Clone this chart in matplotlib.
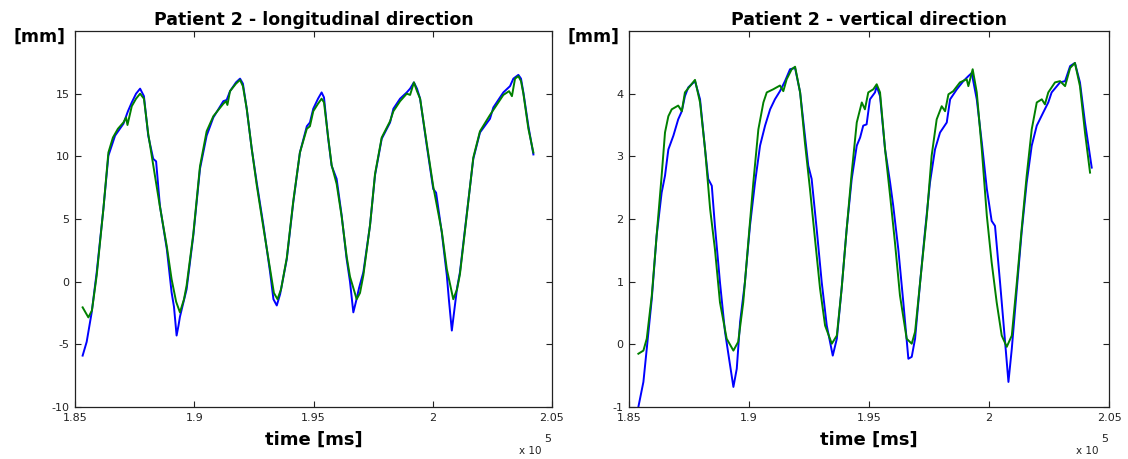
import matplotlib
matplotlib.use("Agg")
import matplotlib.pyplot as plt

# ---------------- data (time in ms, displacement in mm) ----------------
long_blue_t = [185320, 185490, 185700, 185910, 186190, 186400, 186680, 187030, 187220, 187380,
               187560, 187730, 187890, 188070, 188280, 188400, 188560, 188850, 189050, 189150,
               189260, 189340, 189400, 189680, 189960, 190240, 190520, 190800, 191220, 191360,
               191500, 191750, 191920, 192040, 192200, 192410, 192620, 192900, 193180, 193320,
               193460, 193600, 193880, 194150, 194430, 194720, 194850, 194990, 195190, 195340,
               195440, 195610, 195760, 195970, 196180, 196390, 196530, 196670, 196780, 196910,
               197090, 197370, 197580, 197860, 198210, 198350, 198630, 198910, 199050, 199210,
               199340, 199470, 199750, 200020, 200140, 200380, 200590, 200680, 200800, 200890,
               201020, 201140, 201420, 201700, 201980, 202400, 202540, 202960, 203240, 203380,
               203590, 203700, 203800, 204010, 204220]
long_blue_v = [-5.9, -4.8, -2.45, 0.75, 5.8, 10.05, 11.65, 12.6, 13.6, 14.3,
               15.0, 15.4, 14.8, 11.65, 9.8, 9.6, 6.06, 2.6, -0.85, -2.0,
               -4.3, -3.5, -2.8, -0.6, 3.67, 9.0, 11.65, 13.1, 14.4, 14.5,
               15.2, 15.9, 16.2, 15.8, 13.8, 10.6, 7.9, 4.5, 0.75, -1.4,
               -1.9, -1.0, 1.8, 6.3, 10.3, 12.4, 12.7, 13.8, 14.6, 15.1,
               14.7, 11.5, 9.25, 8.2, 5.3, 1.8, 0.0, -2.45, -1.6, -0.5,
               0.75, 4.5, 8.5, 11.4, 12.7, 13.8, 14.6, 15.1, 15.4, 15.9,
               15.4, 14.6, 10.85, 7.4, 7.1, 3.9, 0.5, -1.5, -3.9, -2.5,
               -0.5, 0.75, 5.3, 9.8, 11.9, 13.0, 13.9, 15.1, 15.6, 16.2,
               16.5, 16.2, 15.1, 12.4, 10.15]

long_green_t = [185320, 185560, 185710, 185910, 186190, 186400, 186590, 186800, 187030, 187140,
                187200, 187380, 187560, 187730, 187890, 188070, 188280, 188560, 188850, 189050,
                189240, 189400, 189570, 189680, 189960, 190240, 190520, 190800, 191220, 191330,
                191390, 191500, 191750, 191920, 192040, 192200, 192410, 192620, 192900, 193180,
                193340, 193490, 193640, 193880, 194150, 194430, 194720, 194850, 194990, 195190,
                195340, 195440, 195610, 195760, 195970, 196180, 196390, 196530, 196810, 196950,
                197090, 197370, 197580, 197860, 198210, 198350, 198630, 198910, 199050, 199210,
                199340, 199470, 199750, 200020, 200380, 200590, 200860, 201020, 201140, 201420,
                201700, 201980, 202400, 202540, 202960, 203200, 203320, 203450, 203590, 203700,
                203800, 204010, 204220]
long_green_v = [-2.05, -2.85, -2.3, 0.5, 5.8, 10.3, 11.5, 12.2, 12.7, 13.1,
                12.5, 14.0, 14.6, 15.0, 14.6, 11.8, 9.3, 6.0, 2.8, 0.2,
                -1.6, -2.45, -1.4, -0.3, 3.8, 9.2, 12.0, 13.2, 14.2, 14.4,
                14.1, 15.2, 15.8, 16.1, 15.6, 13.8, 10.6, 7.7, 4.3, 1.0,
                -0.9, -1.4, -0.6, 1.9, 6.4, 10.3, 12.2, 12.4, 13.6, 14.2,
                14.6, 14.3, 11.6, 9.3, 7.8, 5.2, 2.0, 0.4, -1.4, -0.9,
                0.5, 4.5, 8.6, 11.5, 12.8, 13.6, 14.4, 15.0, 14.9, 15.9,
                15.2, 14.6, 11.0, 7.6, 4.0, 1.0, -1.4, -0.6, 0.6, 5.2,
                9.9, 12.0, 13.3, 13.7, 14.9, 15.2, 14.8, 16.2, 16.4, 16.0,
                15.0, 12.2, 10.3]

vert_blue_t = [185390, 185600, 185740, 185950, 186150, 186360, 186500, 186640, 186850, 187050,
               187200, 187330, 187470, 187750, 187960, 188170, 188300, 188450, 188580, 188790,
               189000, 189210, 189350, 189490, 189630, 189830, 190040, 190250, 190460, 190670,
               190880, 191080, 191290, 191500, 191710, 191920, 192130, 192330, 192470, 192610,
               192820, 193030, 193240, 193490, 193660, 193860, 194070, 194280, 194490, 194630,
               194760, 194900, 195040, 195250, 195320, 195460, 195670, 195880, 196010, 196220,
               196430, 196640, 196780, 196920, 197130, 197330, 197540, 197750, 197960, 198240,
               198380, 198660, 198930, 199140, 199280, 199490, 199700, 199910, 200110, 200250,
               200460, 200670, 200810, 200950, 201160, 201360, 201570, 201780, 201990, 202260,
               202470, 202610, 202960, 203170, 203380, 203580, 203790, 204000, 204280]
vert_blue_v = [-1.0, -0.6, -0.07, 0.73, 1.73, 2.42, 2.69, 3.11, 3.33, 3.59,
               3.72, 3.96, 4.1, 4.2, 3.91, 3.11, 2.64, 2.53, 1.89, 0.99,
               0.2, -0.33, -0.68, -0.39, 0.36, 0.99, 1.89, 2.58, 3.17, 3.49,
               3.75, 3.91, 4.04, 4.2, 4.39, 4.41, 4.02, 3.33, 2.85, 2.64,
               1.84, 0.99, 0.30, -0.18, 0.09, 0.89, 1.84, 2.64, 3.17, 3.3,
               3.49, 3.51, 3.91, 4.02, 4.12, 3.96, 3.11, 2.58, 2.21, 1.52,
               0.67, -0.23, -0.2, 0.09, 0.99, 1.79, 2.58, 3.11, 3.38, 3.54,
               3.91, 4.07, 4.2, 4.28, 4.33, 3.91, 3.22, 2.48, 1.97, 1.89,
               0.99, 0.04, -0.6, -0.07, 0.89, 1.79, 2.58, 3.17, 3.49, 3.70,
               3.86, 4.02, 4.18, 4.2, 4.44, 4.49, 4.18, 3.54, 2.82]

vert_green_t = [185390, 185600, 185740, 185950, 186150, 186360, 186500, 186640, 186780, 187050,
                187200, 187330, 187540, 187750, 187960, 188170, 188380, 188580, 188790, 189070,
                189350, 189550, 189760, 189970, 190180, 190390, 190600, 190740, 191010, 191290,
                191430, 191570, 191780, 191920, 192130, 192330, 192540, 192750, 192960, 193170,
                193450, 193660, 193860, 194070, 194280, 194490, 194700, 194830, 194970, 195180,
                195320, 195460, 195670, 195880, 196080, 196290, 196570, 196780, 196920, 197130,
                197410, 197610, 197820, 198030, 198170, 198310, 198510, 198790, 199070, 199140,
                199320, 199490, 199700, 199910, 200110, 200320, 200530, 200740, 200950, 201160,
                201360, 201570, 201780, 201990, 202200, 202330, 202470, 202750, 202960, 203170,
                203380, 203580, 203790, 204000, 204210]
vert_green_v = [-0.15, -0.1, 0.09, 0.78, 1.73, 2.69, 3.38, 3.64, 3.75, 3.81,
                3.72, 4.02, 4.12, 4.22, 3.86, 3.11, 2.16, 1.52, 0.67, 0.09,
                -0.1, 0.04, 0.67, 1.63, 2.58, 3.43, 3.86, 4.02, 4.07, 4.13,
                4.04, 4.23, 4.39, 4.43, 4.02, 3.22, 2.48, 1.68, 0.89, 0.30,
                0.01, 0.14, 0.89, 1.84, 2.74, 3.54, 3.86, 3.75, 4.02, 4.07,
                4.15, 4.02, 3.11, 2.37, 1.63, 0.78, 0.09, 0.01, 0.2, 0.99,
                2.05, 3.01, 3.59, 3.8, 3.72, 3.99, 4.04, 4.18, 4.23, 4.12,
                4.39, 4.02, 3.11, 2.05, 1.31, 0.67, 0.14, -0.04, 0.14, 0.99,
                1.84, 2.69, 3.43, 3.86, 3.91, 3.83, 4.02, 4.18, 4.2, 4.12,
                4.41, 4.49, 4.12, 3.38, 2.74]

titles = ["Patient 2 - longitudinal direction", "Patient 2 - vertical direction"]
x_ticks = [185000, 190000, 195000, 200000, 205000]
x_tick_labels = ["1.85", "1.9", "1.95", "2", "2.05"]
long_y_ticks = [-10, -5, 0, 5, 10, 15]
vert_y_ticks = [-1, 0, 1, 2, 3, 4]

# ---------------- figure ----------------
plt.rcParams['axes.unicode_minus'] = False
plt.rcParams['font.family'] = ['DejaVu Sans']

W, H = 1128, 459
fig = plt.figure(figsize=(W / 100, H / 100), dpi=100)

def box(x0, x1, y0, y1):
    return [x0 / W, 1 - y1 / H, (x1 - x0) / W, (y1 - y0) / H]

ax1 = fig.add_axes(box(75, 552, 31, 407))
ax2 = fig.add_axes(box(629, 1109, 31, 407))

blue = '#0000FF'
green = '#008000'

setups = [
    (ax1, long_blue_t, long_blue_v, long_green_t, long_green_v, (-10, 20), long_y_ticks, titles[0]),
    (ax2, vert_blue_t, vert_blue_v, vert_green_t, vert_green_v, (-1, 5), vert_y_ticks, titles[1]),
]

for ax, bt, bv, gt, gv, ylim, yt, title in setups:
    ax.plot(bt, bv, color=blue, lw=1.4, solid_joinstyle='round')
    ax.plot(gt, gv, color=green, lw=1.4, solid_joinstyle='round')
    ax.set_xlim(185000, 205000)
    ax.set_ylim(*ylim)
    ax.set_xticks(x_ticks)
    ax.set_xticklabels(x_tick_labels)
    ax.set_yticks(yt)
    ax.set_yticklabels([str(v) for v in yt])
    ax.tick_params(direction='in', length=4, width=0.8, top=True, right=True,
                   labelsize=8, colors='#222222', pad=4)
    for s in ax.spines.values():
        s.set_linewidth(0.9)
        s.set_color('#222222')
    ax.set_title(title, fontsize=12.5, fontweight='bold', pad=4)
    ax.text(-0.02, 0.985, "[mm]", transform=ax.transAxes, ha='right', va='center',
            fontsize=12.5, fontweight='bold')
    ax.text(0.5, -0.088, "time [ms]", transform=ax.transAxes, ha='center', va='center',
            fontsize=13, fontweight='bold')
    ax.text(0.978, -0.118, "x 10", transform=ax.transAxes, ha='right', va='center',
            fontsize=7.5, color='#222222')
    ax.text(0.983, -0.085, "5", transform=ax.transAxes, ha='left', va='center',
            fontsize=8, color='#222222')

fig.savefig("out.png", dpi=100)
